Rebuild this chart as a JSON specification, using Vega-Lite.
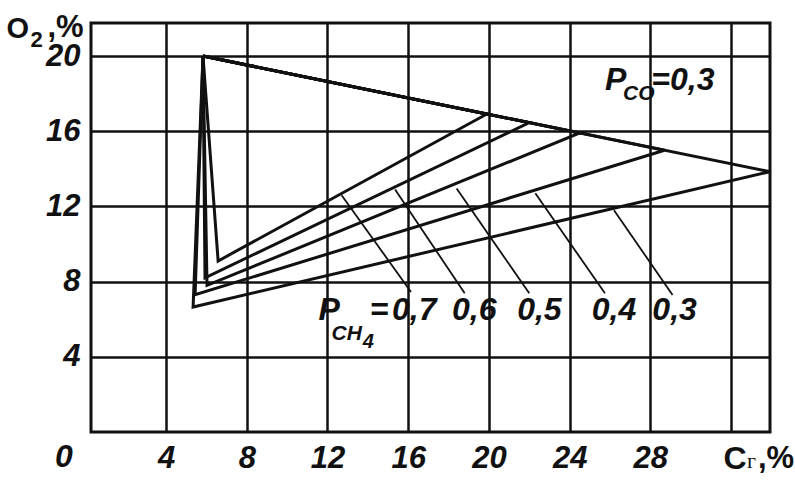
{
  "$schema": "https://vega.github.io/schema/vega-lite/v6.json",
  "width": 679,
  "height": 409,
  "autosize": "none",
  "padding": {"left": 91, "top": 23, "right": 25, "bottom": 49},
  "background": "white",
  "config": {
    "view": {"stroke": "#111", "strokeWidth": 3},
    "font": "Liberation Sans, Arial",
    "axis": {
      "grid": true, "gridColor": "#111", "gridWidth": 2.5, "gridOpacity": 1,
      "ticks": false, "domain": false,
      "labelFont": "Liberation Sans, Arial",
      "labelFontSize": 31, "labelFontWeight": "bold", "labelFontStyle": "italic",
      "labelColor": "#111", "labelOverlap": false, "labelBound": false, "labelFlush": false,
      "titleFont": "Liberation Sans, Arial",
      "titleFontSize": 32, "titleFontWeight": "bold", "titleColor": "#111"
    }
  },
  "datasets": {
    "tri": [
      {"s": "0,7", "i": 0, "x": 5.83, "y": 20},
      {"s": "0,7", "i": 1, "x": 6.58, "y": 9.1},
      {"s": "0,7", "i": 2, "x": 19.9, "y": 16.92},
      {"s": "0,7", "i": 3, "x": 5.83, "y": 20},
      {"s": "0,6", "i": 0, "x": 5.83, "y": 20},
      {"s": "0,6", "i": 1, "x": 5.93, "y": 8.2},
      {"s": "0,6", "i": 2, "x": 22.0, "y": 16.46},
      {"s": "0,6", "i": 3, "x": 5.83, "y": 20},
      {"s": "0,5", "i": 0, "x": 5.83, "y": 20},
      {"s": "0,5", "i": 1, "x": 6.03, "y": 7.8},
      {"s": "0,5", "i": 2, "x": 24.5, "y": 15.91},
      {"s": "0,5", "i": 3, "x": 5.83, "y": 20},
      {"s": "0,4", "i": 0, "x": 5.83, "y": 20},
      {"s": "0,4", "i": 1, "x": 5.44, "y": 7.3},
      {"s": "0,4", "i": 2, "x": 28.7, "y": 14.99},
      {"s": "0,4", "i": 3, "x": 5.83, "y": 20},
      {"s": "0,3", "i": 0, "x": 5.83, "y": 20},
      {"s": "0,3", "i": 1, "x": 5.34, "y": 6.65},
      {"s": "0,3", "i": 2, "x": 33.93, "y": 13.85},
      {"s": "0,3", "i": 3, "x": 5.83, "y": 20}
    ],
    "leaders": [
      {"s": "0,7", "x": 12.7, "y": 12.6, "x2": 16.14, "y2": 7.45},
      {"s": "0,6", "x": 15.35, "y": 12.9, "x2": 18.8, "y2": 7.38},
      {"s": "0,5", "x": 18.4, "y": 12.95, "x2": 22.0, "y2": 7.38},
      {"s": "0,4", "x": 22.3, "y": 12.7, "x2": 25.75, "y2": 7.38},
      {"s": "0,3", "x": 26.2, "y": 11.8, "x2": 29.1, "y2": 7.29}
    ],
    "big": [
      {"t": "P", "x": 25.75, "y": 18.19},
      {"t": "=0,3", "x": 28.05, "y": 18.19},
      {"t": "P", "x": 11.55, "y": 5.96},
      {"t": "=", "x": 14.1, "y": 5.96},
      {"t": "0,7", "x": 15.2, "y": 5.96},
      {"t": "0,6", "x": 18.17, "y": 5.96},
      {"t": "0,5", "x": 21.4, "y": 5.96},
      {"t": "0,4", "x": 25.1, "y": 5.96},
      {"t": "0,3", "x": 28.1, "y": 5.96},
      {"t": "0", "x": -1.5, "y": -1.86}
    ],
    "sub": [
      {"t": "CO", "x": 26.65, "y": 17.66},
      {"t": "CH", "x": 12.2, "y": 4.89}
    ],
    "subsub": [
      {"t": "4", "x": 13.75, "y": 4.47}
    ],
    "titleBig": [
      {"t": ",%", "x": -1.88, "y": 21.01},
      {"t": ",%", "x": 33.33, "y": -1.91}
    ],
    "titleSub": [
      {"t": "2", "x": -2.72, "y": 20.48}
    ],
    "titleCyr": [
      {"t": "г", "x": 32.79, "y": -1.91}
    ]
  },
  "encoding": {
    "x": {
      "field": "x", "type": "quantitative",
      "scale": {"domain": [0.28, 33.93], "nice": false, "zero": false},
      "axis": {
        "values": [4, 8, 12, 16, 20, 24, 28, 32],
        "labelExpr": "datum.value == 32 ? '' : datum.label",
        "labelPadding": 11,
        "title": "C", "titleX": 632, "titleY": 36, "titleAlign": "left",
        "titleBaseline": "alphabetic", "titleAngle": 0
      }
    },
    "y": {
      "field": "y", "type": "quantitative",
      "scale": {"domain": [0, 21.76], "nice": false, "zero": false},
      "axis": {
        "values": [4, 8, 12, 16, 20],
        "labelPadding": 11,
        "title": "O", "titleX": -85, "titleY": 14, "titleAlign": "left",
        "titleBaseline": "alphabetic", "titleAngle": 0, "titleFontSize": 29
      }
    }
  },
  "layer": [
    {
      "data": {"name": "tri"},
      "mark": {"type": "line", "color": "#111", "strokeWidth": 3, "strokeJoin": "miter", "strokeMiterLimit": 4},
      "encoding": {
        "detail": {"field": "s"},
        "order": {"field": "i", "type": "quantitative"}
      }
    },
    {
      "data": {"name": "leaders"},
      "mark": {"type": "rule", "color": "#111", "strokeWidth": 1.8},
      "encoding": {
        "x2": {"field": "x2"},
        "y2": {"field": "y2"}
      }
    },
    {
      "data": {"name": "big"},
      "mark": {"type": "text", "align": "left", "baseline": "alphabetic", "fontSize": 32, "fontWeight": "bold", "fontStyle": "italic", "color": "#111"},
      "encoding": {"text": {"field": "t"}}
    },
    {
      "data": {"name": "sub"},
      "mark": {"type": "text", "align": "left", "baseline": "alphabetic", "fontSize": 21, "fontWeight": "bold", "fontStyle": "italic", "color": "#111"},
      "encoding": {"text": {"field": "t"}}
    },
    {
      "data": {"name": "subsub"},
      "mark": {"type": "text", "align": "left", "baseline": "alphabetic", "fontSize": 20, "fontWeight": "bold", "fontStyle": "italic", "color": "#111"},
      "encoding": {"text": {"field": "t"}}
    },
    {
      "data": {"name": "titleBig"},
      "mark": {"type": "text", "align": "left", "baseline": "alphabetic", "fontSize": 31, "fontWeight": "bold", "color": "#111"},
      "encoding": {"text": {"field": "t"}}
    },
    {
      "data": {"name": "titleSub"},
      "mark": {"type": "text", "align": "left", "baseline": "alphabetic", "fontSize": 22, "fontWeight": "bold", "color": "#111"},
      "encoding": {"text": {"field": "t"}}
    },
    {
      "data": {"name": "titleCyr"},
      "mark": {"type": "text", "align": "left", "baseline": "alphabetic", "font": "Liberation Serif", "fontSize": 22, "color": "#111"},
      "encoding": {"text": {"field": "t"}}
    }
  ]
}
